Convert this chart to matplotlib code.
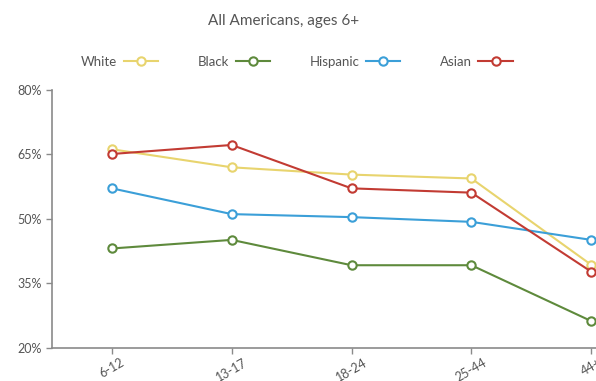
import matplotlib.pyplot as plt

ages = ["6-12", "13-17", "18-24", "25-44", "44+"]
white = [66.2, 62.0, 60.3, 59.4, 39.3]
black = [43.1, 45.1, 39.2, 39.2, 26.2]
hispanic = [57.1, 51.1, 50.4, 49.3, 45.1]
asian = [65.1, 67.2, 57.1, 56.1, 37.7]

series = [
    ("White", white, "#e8d46e"),
    ("Black", black, "#5e8a3c"),
    ("Hispanic", hispanic, "#3b9fd8"),
    ("Asian", asian, "#c23b33"),
]

plt.rcParams["font.family"] = ["Lato", "DejaVu Sans"]
text_color = "#555555"
axis_color = "#8a8a8a"

fig = plt.figure(figsize=(5.96, 3.81), dpi=100)
ax = fig.add_axes([0.0872, 0.0874, 0.9128, 0.6764])

x = list(range(len(ages)))
for name, vals, col in series:
    ax.plot(x, vals, color=col, lw=1.5, marker="o", markersize=6,
            markerfacecolor="white", markeredgecolor=col, markeredgewidth=1.5,
            label=name)

ax.set_xlim(-0.5, 4.04)
ax.set_ylim(20, 80)
ax.set_yticks([20, 35, 50, 65, 80])
ax.set_yticklabels([f"{v}%" for v in [20, 35, 50, 65, 80]])
ax.set_xticks(x)
ax.set_xticklabels(ages, rotation=30, ha="center")

for side in ["top", "right"]:
    ax.spines[side].set_visible(False)
for side in ["left", "bottom"]:
    ax.spines[side].set_color(axis_color)
    ax.spines[side].set_linewidth(1.2)
ax.tick_params(colors=axis_color, labelcolor=text_color, labelsize=9, length=4, width=1)
ax.tick_params(axis="x", pad=2)

fig.text(0.475, 0.945, "All Americans, ages 6+", ha="center", va="center",
         fontsize=11, color=text_color)

fig.legend(loc="center", bbox_to_anchor=(0.498, 0.837), ncol=4, frameon=False,
           markerfirst=False, handlelength=2.6, columnspacing=3.0, handletextpad=0.5,
           fontsize=9.5, labelcolor=text_color)

fig.savefig("out.png", dpi=100)
